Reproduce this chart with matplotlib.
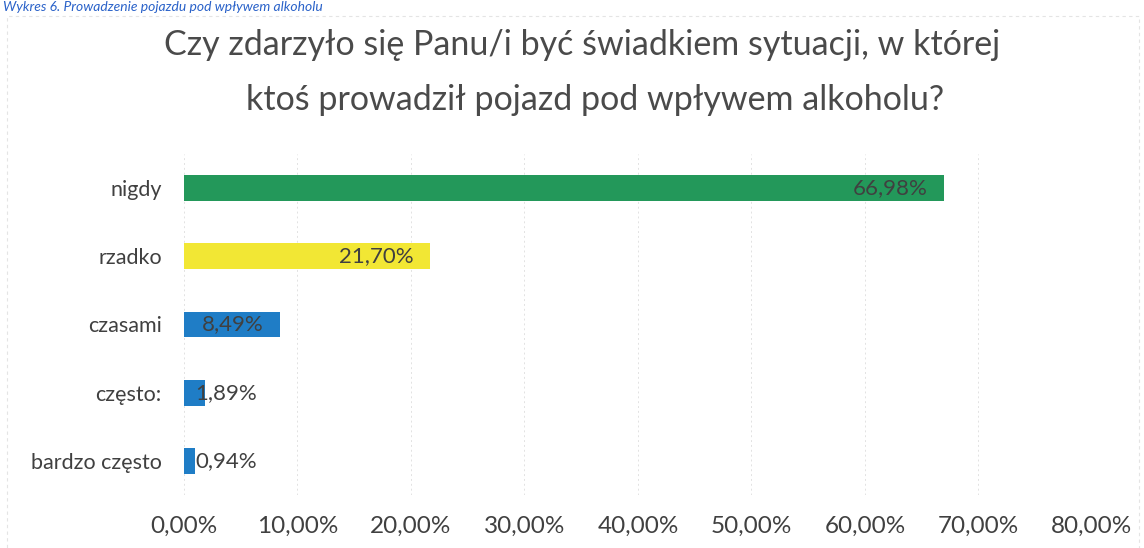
import matplotlib.pyplot as plt
from matplotlib.patches import Rectangle
from matplotlib.ticker import FuncFormatter

plt.rcParams["font.family"] = ["Lato", "DejaVu Sans"]

categories = ["nigdy", "rzadko", "czasami", "często:", "bardzo często"]
values = [66.98, 21.70, 8.49, 1.89, 0.94]
colors = ["#23985a", "#f2e734", "#1f7dc6", "#1f7dc6", "#1f7dc6"]
title_lines = [
    "Czy zdarzyło się Panu/i być świadkiem sytuacji, w której",
    "ktoś prowadził pojazd pod wpływem alkoholu?",
]
caption = "Wykres 6. Prowadzenie pojazdu pod wpływem alkoholu"

fig = plt.figure(figsize=(11.44, 5.48), dpi=100)
ax = fig.add_axes([0.1608, 0.0967, 0.7937, 0.6223])

ypos = list(range(len(categories)))
ax.barh(ypos, values, height=0.38, color=colors, zorder=2)
ax.set_ylim(len(categories) - 0.5, -0.5)
ax.set_xlim(0, 80)
ax.set_xticks(range(0, 81, 10))
ax.xaxis.set_major_formatter(FuncFormatter(lambda v, _: f"{v:.2f}%".replace(".", ",")))
ax.set_yticks(ypos)
ax.set_yticklabels(categories)
ax.tick_params(axis="both", length=0, labelcolor="#404040")
ax.tick_params(axis="x", pad=15, labelsize=17.5)
ax.tick_params(axis="y", pad=16, labelsize=15.5)
for s in ax.spines.values():
    s.set_visible(False)
ax.grid(axis="x", color="#e2e2e2", linestyle=(0, (2, 3)), linewidth=0.7, zorder=0)

# value labels: inside end, overflow for the small bars
for y, v in zip(ypos, values):
    label = f"{v:.2f}%".replace(".", ",")
    if v > 5:
        ax.text(v - 1.5, y, label, ha="right", va="center", fontsize=16,
                color="#404040", zorder=3)
    else:
        ax.text(1.0, y, label, ha="left", va="center", fontsize=16,
                color="#404040", zorder=3)

fig.text(0.509, 1 - 45 / 548, title_lines[0], ha="center", va="center",
         fontsize=24.5, color="#4a4a4a")
fig.text(0.520, 1 - 100 / 548, title_lines[1], ha="center", va="center",
         fontsize=24.5, color="#4a4a4a")

# caption from the scanned page and the chart frame
fig.text(0.003, 0.999, caption, ha="left", va="top", fontsize=10,
         style="italic", color="#2a62c9")
fig.add_artist(Rectangle((0.006, -0.1), 0.99, 1.07, transform=fig.transFigure,
                         fill=False, edgecolor="#e4e4e4", linewidth=0.8,
                         linestyle=(0, (3, 3))))

fig.savefig("out.png", dpi=100)
